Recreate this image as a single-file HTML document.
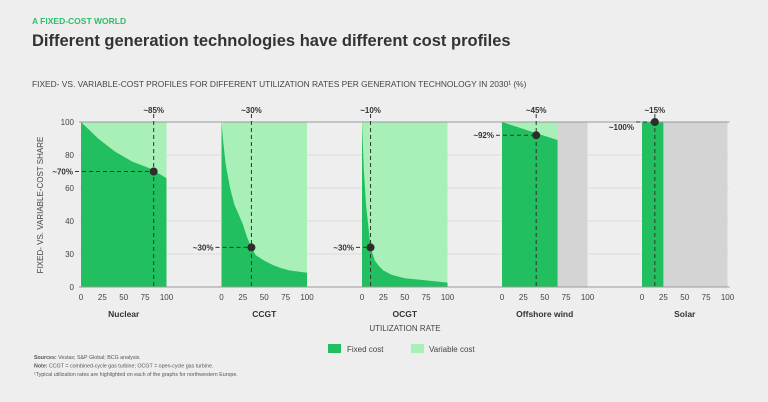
<!DOCTYPE html>
<html><head><meta charset="utf-8"><style>
body{margin:0;background:#efeeef;font-family:"Liberation Sans",sans-serif;}
svg{display:block}
</style></head><body>
<svg width="768" height="402" viewBox="0 0 768 402" xmlns="http://www.w3.org/2000/svg">
<text x="32" y="24" font-size="8.5" font-weight="bold" fill="#2ebd6a">A FIXED-COST WORLD</text>
<text x="32" y="46" font-size="16.5" font-weight="bold" fill="#333">Different generation technologies have different cost profiles</text>
<text x="32" y="87" font-size="8.4" fill="#444">FIXED- VS. VARIABLE-COST PROFILES FOR DIFFERENT UTILIZATION RATES PER GENERATION TECHNOLOGY IN 2030¹ (%)</text>
<text transform="translate(43,205) rotate(-90)" text-anchor="middle" font-size="8" fill="#444">FIXED- VS. VARIABLE-COST SHARE</text>
<g id="grid"></g>
<g id="panels"></g>
<text x="405" y="331" text-anchor="middle" font-size="8" fill="#444">UTILIZATION RATE</text>
<rect x="328" y="344" width="13" height="9" fill="#21bf5f"/>
<text x="347" y="352" font-size="8" fill="#444">Fixed cost</text>
<rect x="411" y="344" width="13" height="9" fill="#a8efb8"/>
<text x="429" y="352" font-size="8" fill="#444">Variable cost</text>
<g font-size="5.3" fill="#555">
<text x="34" y="359"><tspan font-weight="bold">Sources:</tspan> Vestas; S&amp;P Global; BCG analysis.</text>
<text x="34" y="367.5"><tspan font-weight="bold">Note:</tspan> CCGT = combined-cycle gas turbine; OCGT = open-cycle gas turbine.</text>
<text x="34" y="376">¹Typical utilization rates are highlighted on each of the graphs for northwestern Europe.</text>
</g>
</svg>
<script>
const yTicks=[0,30,40,60,80,100];
const xTicks=[0,25,50,75,100];
const techNames=["Nuclear","CCGT","OCGT","Offshore wind","Solar"];
const nuclearU=[0,10,20,30,40,50,60,70,80,90,100];
const nuclearF=[100,95,90,86,82,79,76,74,72,69,66];
const ccgtU=[0,2,5,10,15,20,25,30,35,40,50,60,70,80,90,100];
const ccgtF=[100,88,74,60,50,44,39,35,32,29,24,20,17,15,14,13];
const ocgtU=[0,2,5,8,10,15,20,25,35,50,75,100];
const ocgtF=[100,72,48,37,32,24,19,15,11,8,6,4];
const windU=[0,65];
const windF=[100,89];
const solarU=[0,25];
const solarF=[100,100];
const maxUtil=[100,100,100,65,25];
const typU=[85,35,10,40,15];
const typF=[70,32,32,92,100];
const typULabel=["~85%","~30%","~10%","~45%","~15%"];
const typFLabel=["~70%","~30%","~30%","~92%","~100%"];
const seriesU=[nuclearU,ccgtU,ocgtU,windU,solarU];
const seriesF=[nuclearF,ccgtF,ocgtF,windF,solarF];

const NS="http://www.w3.org/2000/svg";
const svg=document.querySelector('svg');
const Y0=287,STEP=33,PX0=[81,221.5,362,502,642],PW=85.5;
function y(v){for(let i=0;i<yTicks.length-1;i++){if(v<=yTicks[i+1]){return Y0-(i+(v-yTicks[i])/(yTicks[i+1]-yTicks[i]))*STEP;}}return Y0-(yTicks.length-1)*STEP;}
function x(p,u){return PX0[p]+u/100*PW;}
function mk(tag,attrs,parent){const e=document.createElementNS(NS,tag);for(const k in attrs)e.setAttribute(k,attrs[k]);(parent||svg).appendChild(e);return e;}
const grid=document.getElementById('grid');
const panels=document.getElementById('panels');
yTicks.forEach((t,i)=>{
  const gl=mk('line',{x1:79,x2:729,y1:y(t),y2:y(t),stroke:i==yTicks.length-1?'#999':(i==0?'#999':'#dcdcdc'),'stroke-width':1},grid);
  
  
  const tl=mk('text',{x:74,y:y(t)+3,'text-anchor':'end','font-size':8,fill:'#444'},grid);
  tl.textContent=t;
  
  
});
techNames.forEach((name,p)=>{
  const g=mk('g',{},panels);
  
  
  if(maxUtil[p]<100){
    const gr=mk('rect',{x:x(p,maxUtil[p]),y:y(100),width:x(p,100)-x(p,maxUtil[p]),height:Y0-y(100),fill:'#d4d4d4'},g);
    
    
  }
  const vr=mk('rect',{x:x(p,0),y:y(100),width:x(p,maxUtil[p])-x(p,0),height:Y0-y(100),fill:'#a8efb8'},g);
  
  
  const U=seriesU[p],F=seriesF[p];
  let d='M'+x(p,U[0])+','+Y0;
  U.forEach((u,i)=>{d+=' L'+x(p,u)+','+y(F[i]);});
  d+=' L'+x(p,U[U.length-1])+','+Y0+' Z';
  const fa=mk('path',{d:d,fill:'#21bf5f'},g);
  
  
  mk('line',{x1:x(p,0)-2,x2:x(p,100)+2,y1:y(100),y2:y(100),stroke:'#999','stroke-width':1},g);
  mk('line',{x1:x(p,0)-2,x2:x(p,100)+2,y1:Y0,y2:Y0,stroke:'#999','stroke-width':1},g);
  const dx=x(p,typU[p]),dy=y(typF[p]);
  const vl=mk('line',{x1:dx,x2:dx,y1:y(100)-8,y2:Y0,stroke:'#333','stroke-width':1,'stroke-dasharray':'4,3'},g);
  
  
  const hl=mk('line',{x1:x(p,0)-6,x2:dx,y1:dy,y2:dy,stroke:'#333','stroke-width':1,'stroke-dasharray':'4,3'},g);
  
  
  const dot=mk('circle',{cx:dx,cy:dy,r:4,fill:'#2d2d2d'},g);
  
  
  const tu=mk('text',{x:dx,y:y(100)-9,'text-anchor':'middle','font-size':8,'font-weight':'bold',fill:'#333'},g);
  tu.textContent=typULabel[p];
  
  
  const tf=mk('text',{x:x(p,0)-8,y:dy+(p==4?8:3),'text-anchor':'end','font-size':8,'font-weight':'bold',fill:'#333'},g);
  tf.textContent=typFLabel[p];
  
  
  xTicks.forEach(t=>{
    const xt=mk('text',{x:x(p,t),y:300,'text-anchor':'middle','font-size':8,fill:'#444'},g);
    xt.textContent=t;
    
    
  });
  const nm=mk('text',{x:x(p,50),y:317,'text-anchor':'middle','font-size':8.5,'font-weight':'bold',fill:'#333'},g);
  nm.textContent=name;
  
  
});
</script>
</body></html>
